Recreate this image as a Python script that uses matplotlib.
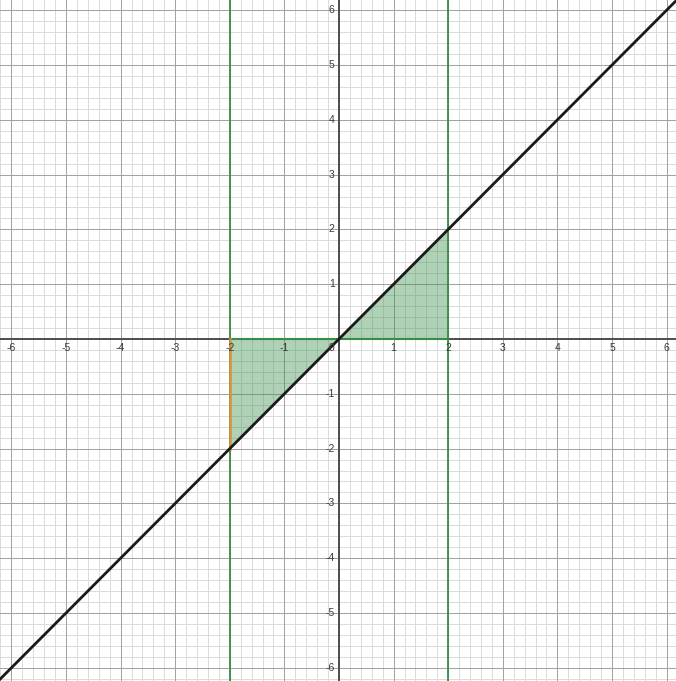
import numpy as np
import matplotlib.pyplot as plt

# graph: y = x, shaded between y = x and y = 0 for -2 <= x <= 2
slope = 1.0
x_left, x_right = -2, 2
ticks = [-6, -5, -4, -3, -2, -1, 1, 2, 3, 4, 5, 6]

green = '#388c46'
orange = '#d9923a'

fig = plt.figure(figsize=(6.76, 6.81), dpi=100)
ax = fig.add_axes([0, 0, 1, 1])
ax.set_xlim(-339 / 54.6, (676 - 339) / 54.6)
ax.set_ylim(-(681 - 339) / 54.8, 339 / 54.8)
ax.set_axis_off()

# grid: minor every 0.2, major every 1
minor = [round(v, 1) for v in np.arange(-7, 7.01, 0.2) if abs(v - round(v)) > 1e-6]
major = list(range(-7, 8))
for v in minor:
    ax.axvline(v, color='#dcdcdc', lw=0.72, zorder=0)
    ax.axhline(v, color='#dcdcdc', lw=0.72, zorder=0)
for v in major:
    ax.axvline(v, color='#a3a3a3', lw=0.72, zorder=0.5)
    ax.axhline(v, color='#a3a3a3', lw=0.72, zorder=0.5)
ax.axhline(0, color='#4d4d4d', lw=1.4, zorder=1)
ax.axvline(0, color='#4d4d4d', lw=1.4, zorder=1)

# shading
xs = np.linspace(x_left, x_right, 200)
ax.fill_between(xs, slope * xs, 0, color=green, alpha=0.4, lw=0, zorder=2)
ax.plot([x_left, x_right], [0, 0], color=green, lw=1.5, zorder=3)

# vertical bounds
ax.axvline(x_left, color=green, lw=1.3, zorder=3)
ax.axvline(x_right, color=green, lw=1.3, zorder=3)
ax.plot([x_left, x_left], [0, slope * x_left], color=orange, lw=1.8, zorder=4)

# y = x
lx = np.array([-7, 7])
ax.plot(lx, slope * lx, color='#1a1a1a', lw=2.0, zorder=5)

# labels
kw = dict(fontsize=7.5, color='#3a3a3a', family='Liberation Sans', zorder=6)
for t in ticks:
    ax.text(t, -0.08, str(t), ha='center', va='top', **kw)
    ax.text(-0.08, t, str(t), ha='right', va='center', **kw)
ax.text(-0.08, -0.08, '0', ha='right', va='top', **kw)

fig.savefig('out.png', dpi=100)
